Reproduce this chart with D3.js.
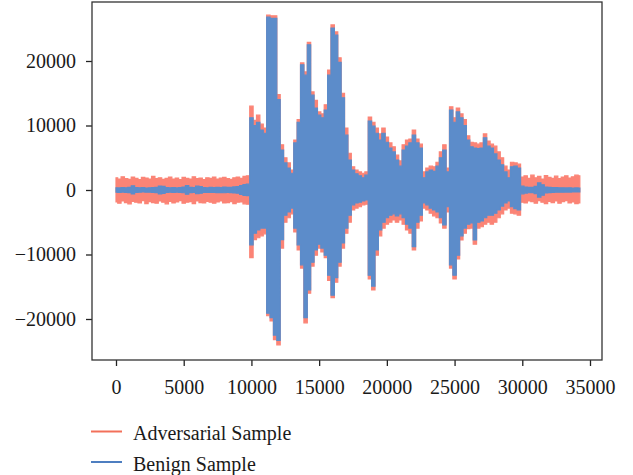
<!DOCTYPE html>
<html>
<head>
<meta charset="utf-8">
<script src="https://cdn.jsdelivr.net/npm/d3@7"></script>
<style>
  body { margin: 0; background: #fff; }
  svg text { font-family: "Liberation Serif", "DejaVu Serif", serif; fill: #1a1a1a; }
</style>
</head>
<body>
<svg id="chart" width="633" height="475"></svg>
<script>
// Sample spacing of the envelope readings (audio sample index)
const sampleStep = 250;

// Envelope of the benign waveform (upper / lower), one reading per sampleStep samples
const benignTop = [
  350, 320, 380, 340, 420, 650, 380, 330, 360, 300,
  340, 380, 420, 620, 560, 380, 340, 360, 320, 380,
  450, 680, 420, 380, 600, 520, 380, 350, 400, 380,
  420, 380, 450, 400, 420, 480, 520, 700, 850, 900,
  11200, 10000, 10500, 9300, 8800, 26800, 26600, 26600, 14000, 6200,
  4200, 3400, 2600, 7300, 10500, 19400, 17800, 22500, 14700, 12700,
  11600, 11200, 12400, 17800, 25100, 24000, 19800, 14300, 8500, 4650,
  3100, 2500, 2200, 1900, 2300, 10700, 9900, 8800, 7750, 8800,
  7400, 6500, 5900, 4650, 3700, 6200, 6800, 7300, 8500, 7300,
  6500, 1900, 2800, 3100, 2900, 3700, 5000, 6200, 2800, 12400,
  10500, 12100, 11200, 10000, 7750, 6700, 6500, 6400, 6500, 8100,
  6800, 6500, 5600, 4650, 3900, 2800, 1900, 3600, 3700, 3400,
  600, 450, 420, 400, 550, 1100, 800, 450, 400, 380,
  360, 340, 350, 320, 330, 310, 320, 300
];
const benignBottom = [
  -340, -360, -320, -380, -400, -620, -360, -340, -310, -350,
  -330, -370, -400, -600, -540, -360, -330, -380, -340, -360,
  -430, -650, -400, -360, -580, -500, -360, -380, -390, -360,
  -400, -420, -430, -380, -400, -460, -500, -680, -820, -880,
  -8500, -6700, -6200, -5900, -5900, -19100, -19800, -22500, -23300, -7700,
  -3900, -3400, -2800, -5900, -8500, -11600, -19800, -15500, -11200, -9300,
  -8400, -9000, -10100, -13200, -16300, -13600, -11200, -8200, -5900, -3900,
  -2300, -2000, -1900, -1700, -1550, -13200, -14900, -9300, -6200, -5000,
  -4300, -3900, -3700, -4000, -3700, -4300, -5300, -5900, -8800, -5000,
  -3900, -2000, -2300, -2800, -3100, -3400, -4300, -5400, -2600, -11600,
  -13200, -10100, -7100, -5900, -5300, -5100, -7750, -5000, -4800, -4300,
  -3900, -3900, -3600, -3100, -2500, -2000, -1700, -2600, -2900, -3100,
  -600, -480, -430, -420, -560, -1100, -800, -460, -420, -380,
  -350, -340, -330, -320, -320, -300, -310, -300
];

// Envelope of the adversarial waveform (upper / lower)
const adversarialTop = [
  1900, 1700, 2050, 1750, 1650, 2000, 1800, 1600, 1950, 1850,
  1700, 2100, 1750, 1900, 1650, 1800, 2000, 1700, 1850, 1600,
  1950, 1800, 1700, 2050, 1750, 1850, 1600, 1900, 1800, 2000,
  1700, 1850, 1950, 1750, 1650, 1900, 2000, 1800, 2100, 2200,
  13000, 10800, 11600, 10200, 9600, 27100, 27000, 27000, 14800, 7000,
  5000, 4200, 3100, 7750, 10900, 19700, 18300, 22900, 15200, 13900,
  12100, 11800, 13200, 18600, 25600, 24500, 20500, 15000, 9600, 5700,
  3600, 3100, 2800, 2600, 2800, 11300, 10500, 9600, 8700, 9600,
  8200, 7300, 6700, 5400, 4500, 7000, 7750, 7900, 9300, 7900,
  7100, 2800, 3400, 3700, 3600, 4300, 5900, 7000, 3400, 12900,
  11200, 12700, 11800, 10900, 8400, 7400, 7300, 7100, 7300, 8700,
  7600, 7100, 6800, 5900, 5000, 3700, 3100, 4300, 4200, 4000,
  2000, 2200, 1800, 2300, 1900, 2100, 1700, 2250, 1950, 1800,
  2150, 1750, 2000, 2200, 1850, 2050, 2300, 2200
];
const adversarialBottom = [
  -1850, -2050, -1700, -1950, -2150, -1750, -1900, -2000, -1650, -2100,
  -1800, -1950, -2050, -1700, -1900, -2150, -1750, -2000, -1850, -1650,
  -2050, -1900, -1800, -2100, -1700, -1950, -2000, -1750, -1900, -2050,
  -1850, -1700, -2000, -1950, -1800, -2100, -1900, -1850, -2150, -2200,
  -10500, -7700, -7400, -7100, -6800, -19500, -20300, -23200, -24000, -9000,
  -5000, -4300, -3700, -6500, -9300, -12100, -20600, -16000, -11800, -10100,
  -9000, -9600, -10500, -14000, -16700, -14300, -11800, -9000, -6700, -5000,
  -3100, -2800, -2600, -2300, -2200, -13800, -15500, -10100, -7100, -5900,
  -5300, -5000, -4650, -5000, -4650, -5300, -6200, -6700, -9300, -5900,
  -4800, -2800, -3100, -3600, -4000, -4300, -5100, -5900, -3400, -12100,
  -13800, -10700, -7750, -6700, -6000, -5900, -8400, -5900, -5700, -5300,
  -5000, -5300, -5000, -4300, -3700, -3100, -2800, -3600, -3700, -3900,
  -1900, -2000, -1700, -1800, -2050, -1650, -1900, -2100, -1750, -1950,
  -1700, -2050, -1800, -1650, -2000, -1850, -2100, -2000
];

const xTicks = [0, 5000, 10000, 15000, 20000, 25000, 30000, 35000];
const yTicks = [-20000, -10000, 0, 10000, 20000];
const seriesNames = ["Adversarial Sample", "Benign Sample"];
const fillColors = ["#fb8476", "#5c8cca"];
const legendColors = ["#f2705a", "#4e7ec0"];

const svg = d3.select("#chart");
const L = 92, R = 602, T = 2, B = 360;

const x = d3.scaleLinear().domain([-1772, 35886]).range([L, R]);
const y = d3.scaleLinear().domain([-26357, 29147]).range([B, T]);

function rows(top, bottom) {
  return top.map((v, i) => ({ t: i * sampleStep, hi: v, lo: bottom[i] }));
}
const adv = rows(adversarialTop, adversarialBottom);
const ben = rows(benignTop, benignBottom);

const area = d3.area()
  .x(d => x(d.t))
  .y0(d => y(d.lo))
  .y1(d => y(d.hi))
  .curve(d3.curveStep);

const plot = svg.append("g");
plot.append("path").datum(adv).attr("d", area)
  .attr("fill", fillColors[0]).attr("stroke", fillColors[0]).attr("stroke-width", 1.2);
plot.append("path").datum(ben).attr("d", area)
  .attr("fill", fillColors[1]).attr("stroke", fillColors[1]).attr("stroke-width", 1.2);

// axes
const fmt = d3.format("d");
const xAxis = svg.append("g").attr("transform", `translate(0,${B})`)
  .call(d3.axisBottom(x).tickValues(xTicks).tickFormat(fmt).tickSize(6).tickSizeOuter(0));
xAxis.select(".domain").remove();
xAxis.selectAll(".tick line").attr("stroke", "#222").attr("stroke-width", 1.3);
xAxis.selectAll(".tick text").attr("y", 34).attr("dy", null)
  .attr("font-size", 20).attr("fill", "#1a1a1a");

const yAxis = svg.append("g").attr("transform", `translate(${L},0)`)
  .call(d3.axisLeft(y).tickValues(yTicks).tickFormat(fmt).tickSize(6).tickSizeOuter(0));
yAxis.select(".domain").remove();
yAxis.selectAll(".tick line").attr("stroke", "#222").attr("stroke-width", 1.3);
yAxis.selectAll(".tick text").attr("x", -16).attr("dy", "0.32em")
  .attr("font-size", 20).attr("fill", "#1a1a1a");

// frame
svg.append("rect").attr("x", L).attr("y", T).attr("width", R - L).attr("height", B - T)
  .attr("fill", "none").attr("stroke", "#333").attr("stroke-width", 1.3);

// legend
const lg = svg.append("g");
seriesNames.forEach((name, i) => {
  const cy = 431.5 + i * 30.5;
  lg.append("line").attr("x1", 91).attr("x2", 122).attr("y1", cy).attr("y2", cy)
    .attr("stroke", legendColors[i]).attr("stroke-width", 2);
  lg.append("text").attr("x", 133).attr("y", cy + 8.5).attr("font-size", 20).text(name);
});
</script>
</body>
</html>
